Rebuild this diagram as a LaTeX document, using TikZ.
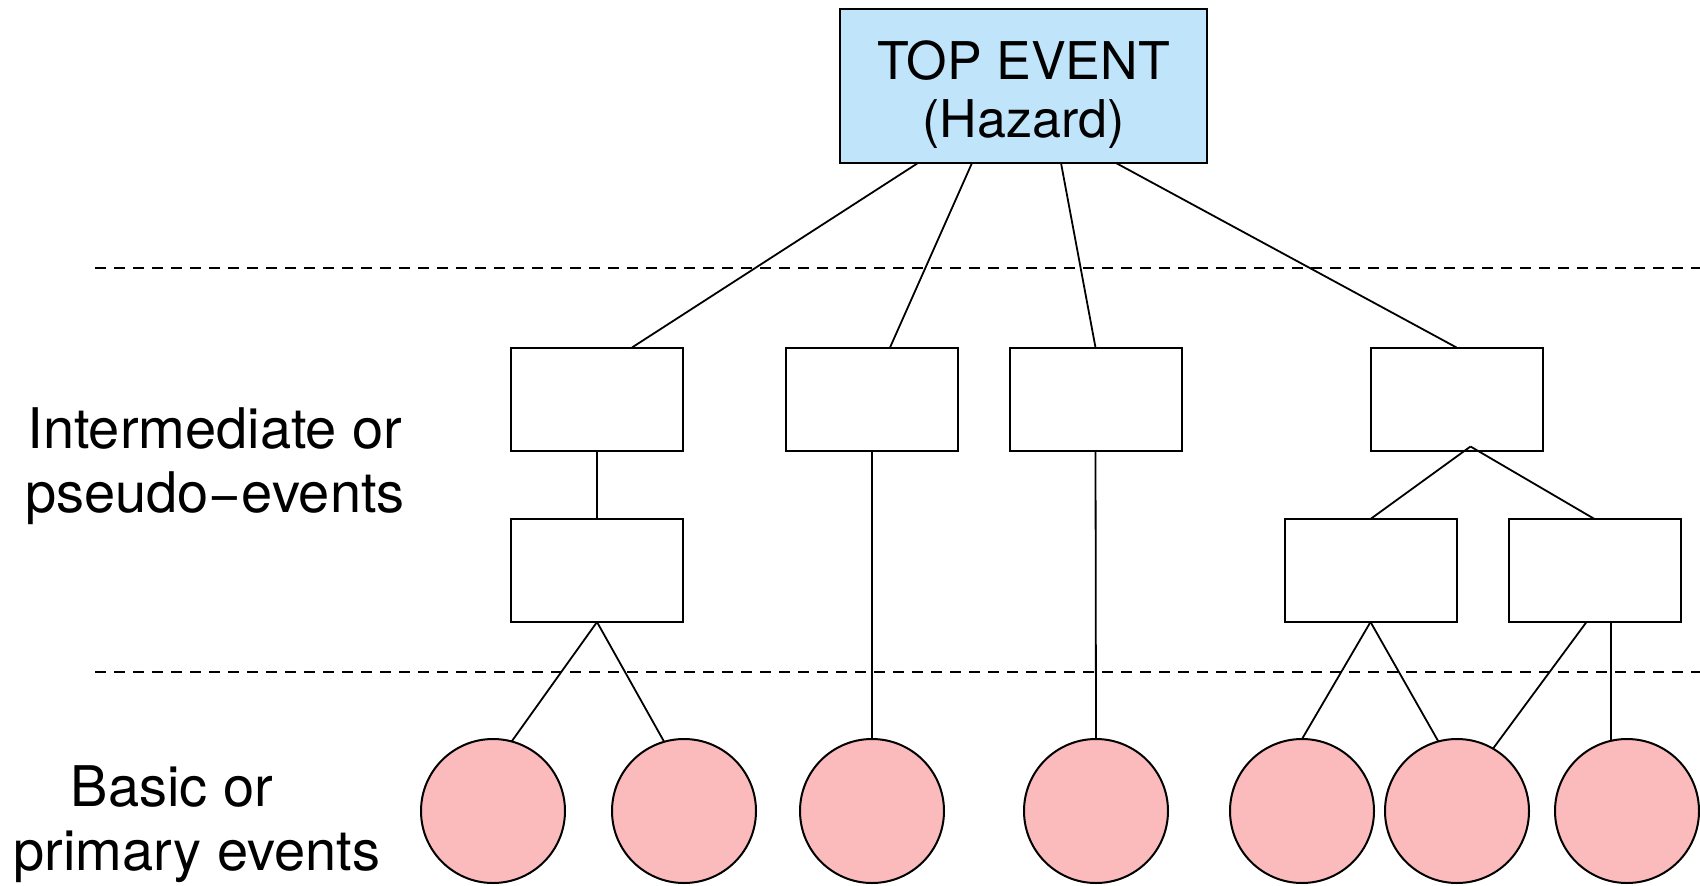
\documentclass[tikz,border=0pt]{standalone}
\usepackage{fontspec}
\setmainfont{TeX Gyre Heros}
\usetikzlibrary{calc}
\definecolor{topblue}{RGB}{192,228,250}
\definecolor{basicpink}{RGB}{251,187,188}
\begin{document}
\begin{tikzpicture}[x=1pt,y=-1pt,
  topbox/.style={draw=black, fill=topblue, line width=2pt, minimum width=367pt, minimum height=154pt, inner sep=0pt, outer sep=0pt, align=center, font=\fontsize{52}{58}\selectfont},
  evbox/.style={draw=black, fill=white, line width=2pt, minimum width=172pt, minimum height=103pt, inner sep=0pt, outer sep=0pt},
  basic/.style={circle, draw=black, fill=basicpink, line width=2pt, minimum size=144pt, inner sep=0pt, outer sep=0pt},
  link/.style={draw=black, line width=1.8pt},
  level/.style={draw=black, line width=1.8pt, dash pattern=on 11pt off 8pt},
  side/.style={align=center, inner sep=0pt, font=\fontsize{56}{64}\selectfont}]

\useasboundingbox (0,0) rectangle (1700,886);

% level separators
\draw[level] (95,268) -- (1700,268);
\draw[level] (95,672) -- (1700,672);

% top event
\node[topbox] (top) at (1023.5,86) {\rule{0pt}{57pt}TOP EVENT\\(Hazard)};

% intermediate events
\node[evbox] (B1) at (597,399) {};
\node[evbox] (B2) at (872,399) {};
\node[evbox] (B3) at (1095.5,399) {};
\node[evbox] (B4) at (1456.5,399) {};
\node[evbox] (A2) at (597,570.5) {};
\node[evbox] (C1) at (1370.5,570.5) {};
\node[evbox] (C2) at (1594.5,570.5) {};

% basic events
\node[basic] (e1) at (493,811) {};
\node[basic] (e2) at (684,811) {};
\node[basic] (e3) at (872,811) {};
\node[basic] (e4) at (1096,811) {};
\node[basic] (e5) at (1302,811) {};
\node[basic] (e6) at (1457,811) {};
\node[basic] (e7) at (1627,811) {};

% side labels
\node[side, anchor=north] (lab1) at (215,407) {Intermediate or\\pseudo−events};
\node[side, anchor=north] (lab2) at (197,765) {Basic or\hspace*{50pt}\\primary events};

% connectors
\draw[link] ([xshift=-105.5pt]top.south) -- ([xshift=35pt]B1.north);
\draw[link] ([xshift=-51.5pt]top.south) -- ([xshift=18pt]B2.north);
\draw[link] ([xshift=37.5pt]top.south) -- (B3.north);
\draw[link] ([xshift=92.5pt]top.south) -- (B4.north);

\draw[link] (B1.south) -- (A2.north);
\draw[link] (A2.south) -- (e1.75);
\draw[link] (A2.south) -- (e2.106);
\draw[link] (B2.south) -- (e3.north);
\draw[link] (B3.south) -- (e4.north);

\coordinate (apex) at ([xshift=14pt,yshift=4pt]B4.south);
\draw[link] (apex) -- (C1.north);
\draw[link] (apex) -- (C2.north);
\draw[link] (C1.south) -- (e5.north);
\draw[link] (C1.south) -- (e6.105);
\draw[link] ([xshift=-8pt]C2.south) -- (e6.60);
\draw[link] (e7.103 |- C2.south) -- (e7.103);
\end{tikzpicture}
\end{document}
